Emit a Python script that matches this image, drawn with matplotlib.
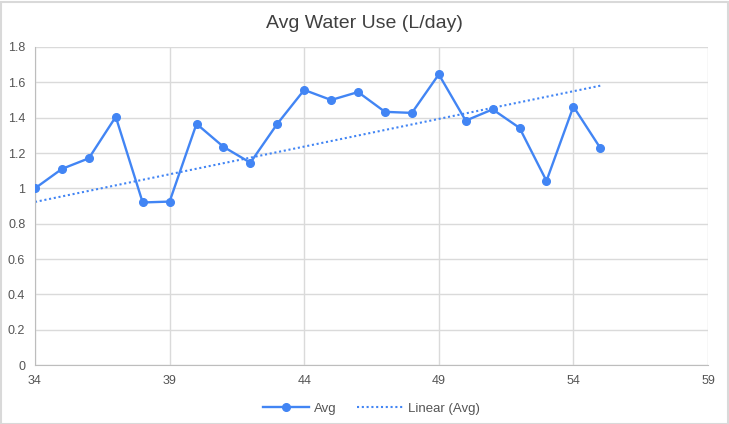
import numpy as np
import matplotlib
matplotlib.use("Agg")
import matplotlib.pyplot as plt
from matplotlib.patches import Rectangle

plt.rcParams['font.family'] = ['Liberation Sans', 'DejaVu Sans']

x_vals = [34, 35, 36, 37, 38, 39, 40, 41, 42, 43, 44, 45, 46, 47, 48, 49, 50, 51, 52, 53, 54, 55]
avg = [1.00, 1.11, 1.17, 1.405, 0.92, 0.925, 1.365, 1.235, 1.145, 1.365, 1.557, 1.50, 1.545,
       1.433, 1.427, 1.645, 1.383, 1.447, 1.342, 1.042, 1.463, 1.228]
trend_x = [34, 55]
trend_y = [0.923, 1.581]
x_ticks = [34, 39, 44, 49, 54, 59]
y_ticks = [0, 0.2, 0.4, 0.6, 0.8, 1, 1.2, 1.4, 1.6, 1.8]
y_labels = ['0', '0.2', '0.4', '0.6', '0.8', '1', '1.2', '1.4', '1.6', '1.8']

blue = '#4285f4'
fig = plt.figure(figsize=(7.29, 4.24), dpi=100)
ax = fig.add_axes([35/729, 59/424, 673/729, 318/424])

ax.plot(x_vals, avg, color=blue, lw=1.7, marker='o', ms=5.5, label='Avg', zorder=3)
ax.plot(trend_x, trend_y, color=blue, lw=1.5, ls=(0, (1, 1.3)), label='Linear (Avg)', zorder=2)

ax.set_xlim(34, 59)
ax.set_ylim(0, 1.8)
ax.set_xticks(x_ticks)
ax.set_yticks(y_ticks)
ax.set_yticklabels(y_labels)
ax.grid(True, color='#dadada', lw=1)
ax.set_axisbelow(True)
for s in ['top', 'right']:
    ax.spines[s].set_visible(False)
for s in ['left', 'bottom']:
    ax.spines[s].set_color('#bdbdbd')
ax.tick_params(length=0, labelsize=9, colors='#555555', pad=7)

fig.suptitle('Avg Water Use (L/day)', y=0.965, fontsize=14, color='#404040')
ax.legend(loc='upper center', bbox_to_anchor=(0.5, -0.08), ncol=2, frameon=False,
          fontsize=9.5, labelcolor='#555555', handlelength=3.5, handletextpad=0.4,
          columnspacing=1.5)

fig.patches.append(Rectangle((0.5/729, 0.5/424), 727/729, 422/424, transform=fig.transFigure,
                             fill=False, edgecolor='#d9d9d9', lw=1.5))
fig.savefig('out.png', dpi=100)
